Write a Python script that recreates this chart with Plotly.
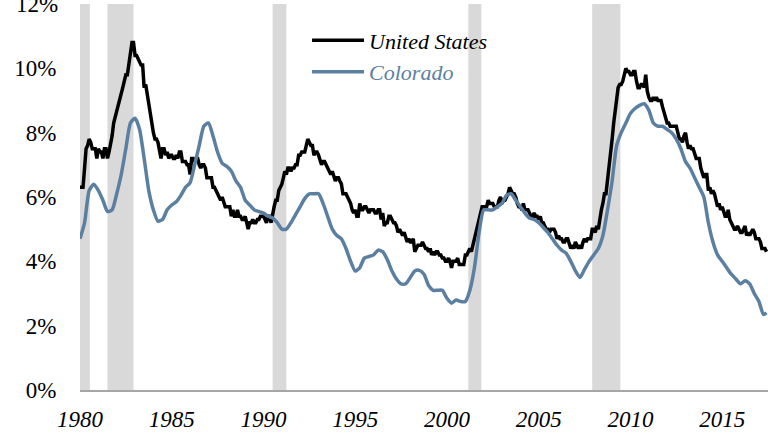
import pandas as pd
import plotly.graph_objects as go

# ---- Data -------------------------------------------------------------
# U.S. unemployment rate, monthly, Jan 1980 - Jun 2017 (%)
us_rate = [
    6.3, 6.3, 6.3, 6.9, 7.5, 7.6, 7.8, 7.7, 7.5, 7.5, 7.5, 7.2,   # 1980
    7.5, 7.4, 7.4, 7.2, 7.5, 7.5, 7.2, 7.4, 7.6, 7.9, 8.3, 8.5,   # 1981
    8.6, 8.9, 9.0, 9.3, 9.4, 9.6, 9.8, 9.8, 10.1, 10.4, 10.8, 10.8,  # 1982
    10.4, 10.4, 10.3, 10.2, 10.1, 10.1, 9.4, 9.5, 9.2, 8.8, 8.5, 8.3,  # 1983
    8.0, 7.8, 7.8, 7.7, 7.4, 7.2, 7.5, 7.5, 7.3, 7.4, 7.2, 7.3,   # 1984
    7.3, 7.2, 7.2, 7.3, 7.2, 7.4, 7.4, 7.1, 7.1, 7.1, 7.0, 7.0,   # 1985
    6.7, 7.2, 7.2, 7.1, 7.2, 7.2, 7.0, 6.9, 7.0, 7.0, 6.9, 6.6,   # 1986
    6.6, 6.6, 6.6, 6.3, 6.3, 6.2, 6.1, 6.0, 5.9, 6.0, 5.8, 5.7,   # 1987
    5.7, 5.7, 5.7, 5.4, 5.6, 5.4, 5.4, 5.6, 5.4, 5.4, 5.3, 5.3,   # 1988
    5.4, 5.2, 5.0, 5.2, 5.2, 5.3, 5.2, 5.2, 5.3, 5.3, 5.4, 5.4,   # 1989
    5.4, 5.3, 5.2, 5.4, 5.4, 5.2, 5.5, 5.7, 5.9, 5.9, 6.2, 6.3,   # 1990
    6.4, 6.6, 6.8, 6.7, 6.9, 6.9, 6.8, 6.9, 6.9, 7.0, 7.0, 7.3,   # 1991
    7.3, 7.4, 7.4, 7.4, 7.6, 7.8, 7.7, 7.6, 7.6, 7.3, 7.4, 7.4,   # 1992
    7.3, 7.1, 7.0, 7.1, 7.1, 7.0, 6.9, 6.8, 6.7, 6.8, 6.6, 6.5,   # 1993
    6.6, 6.6, 6.5, 6.4, 6.1, 6.1, 6.1, 6.0, 5.9, 5.8, 5.6, 5.5,   # 1994
    5.6, 5.4, 5.4, 5.8, 5.6, 5.6, 5.7, 5.7, 5.6, 5.5, 5.6, 5.6,   # 1995
    5.6, 5.5, 5.5, 5.6, 5.6, 5.3, 5.5, 5.1, 5.2, 5.2, 5.4, 5.4,   # 1996
    5.3, 5.2, 5.2, 5.1, 4.9, 5.0, 4.9, 4.8, 4.9, 4.7, 4.6, 4.7,   # 1997
    4.6, 4.6, 4.7, 4.3, 4.4, 4.5, 4.5, 4.5, 4.6, 4.5, 4.4, 4.4,   # 1998
    4.3, 4.4, 4.2, 4.3, 4.2, 4.3, 4.3, 4.2, 4.2, 4.1, 4.1, 4.0,   # 1999
    4.0, 4.1, 4.0, 3.8, 4.0, 4.0, 4.0, 4.1, 3.9, 3.9, 3.9, 3.9,   # 2000
    4.2, 4.2, 4.3, 4.4, 4.3, 4.5, 4.6, 4.9, 5.0, 5.3, 5.5, 5.7,   # 2001
    5.7, 5.7, 5.7, 5.9, 5.8, 5.8, 5.8, 5.7, 5.7, 5.7, 5.9, 6.0,   # 2002
    5.8, 5.9, 5.9, 6.0, 6.1, 6.3, 6.2, 6.1, 6.1, 6.0, 5.8, 5.7,   # 2003
    5.7, 5.6, 5.8, 5.6, 5.6, 5.6, 5.5, 5.4, 5.4, 5.5, 5.4, 5.4,   # 2004
    5.3, 5.4, 5.2, 5.2, 5.1, 5.0, 5.0, 4.9, 5.0, 5.0, 5.0, 4.9,   # 2005
    4.7, 4.8, 4.7, 4.7, 4.6, 4.6, 4.7, 4.7, 4.5, 4.4, 4.5, 4.4,   # 2006
    4.6, 4.5, 4.4, 4.5, 4.4, 4.6, 4.7, 4.6, 4.7, 4.7, 4.7, 5.0,   # 2007
    5.0, 4.9, 5.1, 5.0, 5.4, 5.6, 5.8, 6.1, 6.1, 6.5, 6.8, 7.3,   # 2008
    7.8, 8.3, 8.7, 9.0, 9.4, 9.5, 9.5, 9.6, 9.8, 10.0, 9.9, 9.9,  # 2009
    9.8, 9.8, 9.9, 9.9, 9.6, 9.4, 9.4, 9.5, 9.5, 9.4, 9.8, 9.3,   # 2010
    9.1, 9.0, 9.0, 9.1, 9.0, 9.1, 9.0, 9.0, 9.0, 8.8, 8.6, 8.5,   # 2011
    8.3, 8.3, 8.2, 8.2, 8.2, 8.2, 8.2, 8.0, 7.8, 7.8, 7.7, 7.9,   # 2012
    8.0, 7.7, 7.5, 7.6, 7.5, 7.5, 7.3, 7.2, 7.2, 7.2, 6.9, 6.7,   # 2013
    6.6, 6.7, 6.7, 6.2, 6.3, 6.1, 6.2, 6.1, 5.9, 5.7, 5.8, 5.6,   # 2014
    5.7, 5.5, 5.4, 5.4, 5.6, 5.3, 5.2, 5.1, 5.0, 5.0, 5.1, 5.0,   # 2015
    4.9, 4.9, 5.0, 5.1, 4.8, 4.9, 4.8, 4.9, 5.0, 4.9, 4.7, 4.7,   # 2016
    4.7, 4.6, 4.4, 4.4, 4.4, 4.3,                                 # 2017
]
us_dates = pd.date_range("1980-01-01", periods=len(us_rate), freq="MS")

# Colorado unemployment rate (%)
co_rate = [
    4.7, 5.2, 6.2, 6.4,     # 1980
    6.2, 5.9, 5.55, 5.6,    # 1981
    6.1, 6.7, 7.5, 8.3,     # 1982
    8.45, 8.1, 7.2, 6.2,    # 1983
    5.6, 5.25, 5.3, 5.6,    # 1984
    5.75, 5.85, 6.05, 6.3,  # 1985
    6.45, 7.0, 7.6, 8.2,    # 1986
    8.3, 7.9, 7.4, 7.05,    # 1987
    6.95, 6.8, 6.5, 6.3,    # 1988
    5.9, 5.75, 5.6, 5.55,   # 1989
    5.5, 5.4, 5.35, 5.2,    # 1990
    5.0, 5.0, 5.2, 5.45,    # 1991
    5.7, 5.95, 6.1, 6.1,    # 1992
    6.1, 5.8, 5.4, 5.0,     # 1993
    4.8, 4.7, 4.4, 4.0,     # 1994
    3.7, 3.8, 4.1, 4.15,    # 1995
    4.2, 4.35, 4.3, 4.05,   # 1996
    3.7, 3.45, 3.3, 3.3,    # 1997
    3.5, 3.7, 3.72, 3.6,    # 1998
    3.25, 3.1, 3.1, 3.1,    # 1999
    2.85, 2.7, 2.8, 2.75,   # 2000
    2.75, 3.1, 3.8, 4.9,    # 2001
    5.6, 5.6, 5.6, 5.7,     # 2002
    5.8, 6.05, 6.1, 5.9,    # 2003
    5.7, 5.5, 5.35, 5.3,    # 2004
    5.2, 5.05, 4.9, 4.7,    # 2005
    4.5, 4.35, 4.25, 4.0,   # 2006
    3.7, 3.5, 3.75, 4.0,    # 2007
    4.2, 4.4, 4.8, 5.6,     # 2008
    6.5, 7.6, 8.0, 8.3,     # 2009
    8.6, 8.75, 8.85, 8.9,   # 2010
    8.7, 8.3, 8.2, 8.2,     # 2011
    8.1, 8.0, 7.8, 7.5,     # 2012
    7.1, 6.9, 6.6, 6.3,     # 2013
    6.0, 5.2, 4.6, 4.2,     # 2014
    4.0, 3.8, 3.6, 3.45,    # 2015
    3.3, 3.4, 3.3, 3.0,     # 2016
    2.75, 2.35,             # 2017
]
co_dates = list(pd.date_range("1980-01-01", periods=len(co_rate), freq="QS"))
co_last_date = "2017-06-01"
co_last_rate = 2.4

# Recessions (shaded)
rec_start = ["1980-01-01", "1981-07-01", "1990-07-01", "2001-03-01", "2007-12-01"]
rec_end = ["1980-07-15", "1982-12-01", "1991-04-01", "2001-11-15", "2009-06-15"]

x_tick_years = [1980, 1985, 1990, 1995, 2000, 2005, 2010, 2015]
y_ticks = [0, 2, 4, 6, 8, 10]
y_tick_text = ["0%", "2%", "4%", "6%", "8%", "10%"]
y_top_tick = 12
y_top_text = "12%"

US_COLOR = "#000000"
CO_COLOR = "#5b7fa1"
FONT = "Liberation Serif, Times New Roman, Times, serif"

# ---- Figure -----------------------------------------------------------
fig = go.Figure()

for s, e in zip(rec_start, rec_end):
    fig.add_shape(type="rect", xref="x", yref="y", x0=s, x1=e, y0=0, y1=12,
                  fillcolor="#d9d9d9", line_width=0, layer="below")

fig.add_trace(go.Scatter(
    x=us_dates, y=us_rate, mode="lines", name="United States",
    line=dict(color=US_COLOR, width=3.5)))
fig.add_trace(go.Scatter(
    x=co_dates + [pd.Timestamp(co_last_date)], y=co_rate + [co_last_rate],
    mode="lines", name=f"<span style='color:{CO_COLOR}'>Colorado</span>",
    line=dict(color=CO_COLOR, width=3.5, shape="spline", smoothing=0.6)))

# top tick label (sits at the very top edge, partly cut off as in the original)
fig.add_annotation(x=0, xref="paper", xanchor="right", xshift=-20,
                   y=y_top_tick, yref="y", yanchor="middle",
                   text=y_top_text, showarrow=False,
                   font=dict(family=FONT, size=23, color="black"))

fig.update_layout(
    width=768, height=433,
    margin=dict(l=80, r=0, t=4, b=43),
    paper_bgcolor="white", plot_bgcolor="white",
    font=dict(family=FONT, size=22, color="black"),
    showlegend=True,
    legend=dict(x=0.33, y=0.96, xanchor="left", yanchor="top",
                bgcolor="rgba(0,0,0,0)", itemwidth=52,
                font=dict(family=FONT, size=22, style="italic", color="black")),
)

fig.update_xaxes(
    type="date", range=["1980-01-01", "2017-07-01"],
    tickvals=[f"{y}-01-01" for y in x_tick_years],
    ticktext=[f"<i>{y}</i>" for y in x_tick_years],
    tickfont=dict(family=FONT, size=23, color="black"),
    showgrid=False, zeroline=False, showline=True, linecolor="#a6a6a6",
    linewidth=1.5, ticks="outside", ticklen=8, tickcolor="rgba(0,0,0,0)")

fig.update_yaxes(
    range=[0, 12], tickvals=y_ticks, ticktext=y_tick_text,
    tickfont=dict(family=FONT, size=23, color="black"),
    showgrid=False, zeroline=False, showline=False,
    ticks="outside", ticklen=18, tickcolor="rgba(0,0,0,0)")

fig.write_html("out.html", config={"displayModeBar": False},
               post_script="document.body.style.margin='0px';")
